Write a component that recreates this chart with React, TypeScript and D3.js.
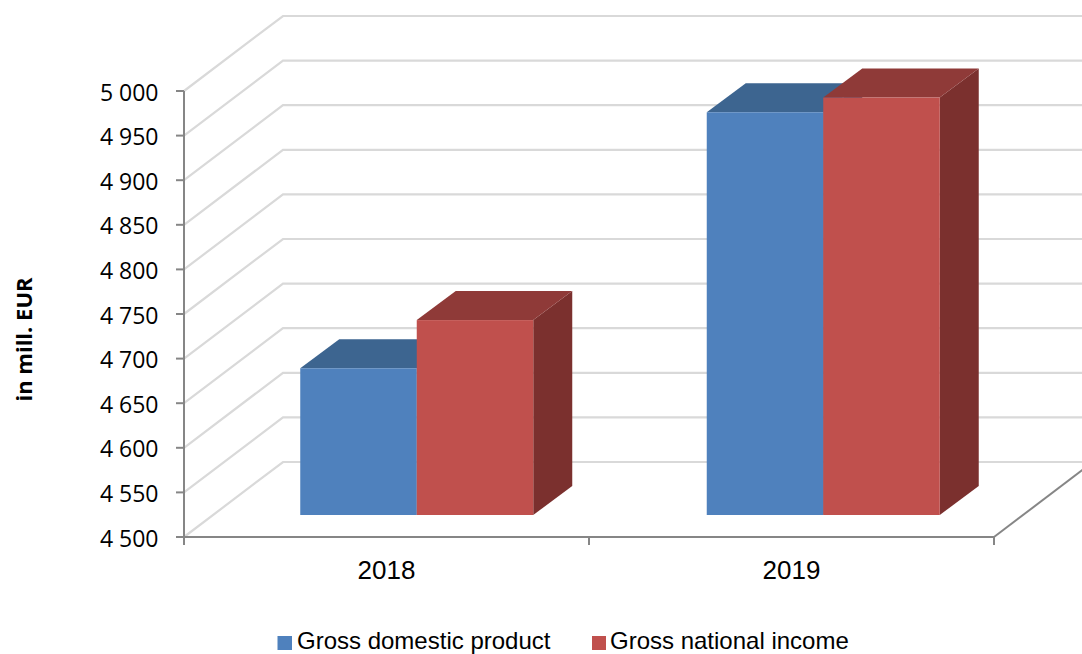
import React from "react";
import * as d3 from "d3";

const categories = ["2018", "2019"];
const seriesNames = ["Gross domestic product", "Gross national income"];
const gdpValues = [4664.5, 4951.5];
const gniValues = [4718.5, 4968];
const yTicks = [4500, 4550, 4600, 4650, 4700, 4750, 4800, 4850, 4900, 4950, 5000];
const tickLabels = ["4 500", "4 550", "4 600", "4 650", "4 700", "4 750", "4 800", "4 850", "4 900", "4 950", "5 000"];
const axisTitle = "in mill. EUR";

const W = 1082, H = 654;
const x0 = 184, x1 = 994, yTop = 91, yBot = 537;
const wallDx = 99, wallDy = -75;
const barDy = -22;
const depthDx = 39, depthDy = -29;
const GRID = "#d9d9d9", AXIS = "#868686";
const FONT = "'Liberation Sans', Arial, sans-serif";

const colors = [
  { front: "#4f81bd", top: "#3d6590", side: "#3a5f8a" },
  { front: "#c0504d", top: "#8f3a38", side: "#7b302e" },
];

export default function App() {
  const y = d3.scaleLinear().domain([4500, 5000]).range([yBot, yTop]);
  const xBand = d3.scaleBand<string>().domain(categories).range([x0, x1]);
  const xBars = d3.scalePoint<string>().domain(categories).range([416.75, 823.25]);
  const xInner = d3.scaleBand<string>().domain(seriesNames).range([-116.5, 116.5]);
  const series = [gdpValues, gniValues];
  const line = d3.line();
  const bars = categories.flatMap((c, ci) =>
    series.map((vals, si) => {
      const left = xBars(c)! + xInner(seriesNames[si])!;
      const w = xInner.bandwidth();
      const t = y(vals[ci]) + barDy;
      const b = y(4500) + barDy;
      const col = colors[si];
      const poly = (pts: [number, number][]) => line(pts)! + "Z";
      return (
        <g key={c + si}>
          <path d={poly([[left + w, t], [left + w + depthDx, t + depthDy], [left + w + depthDx, b + depthDy], [left + w, b]])} fill={col.side} />
          <path d={poly([[left, t], [left + depthDx, t + depthDy], [left + w + depthDx, t + depthDy], [left + w, t]])} fill={col.top} />
          <rect x={left} y={t} width={w} height={b - t} fill={col.front} />
        </g>
      );
    })
  );
  return (
    <svg width={W} height={H} style={{ position: "absolute", left: 0, top: 0, fontFamily: FONT }}>
      <rect width={W} height={H} fill="#fff" />
      {yTicks.map((v) => (
        <path key={v} fill="none" stroke={GRID} strokeWidth={2.2}
          d={line([[x0, y(v)], [x0 + wallDx, y(v) + wallDy], [W + 5, y(v) + wallDy]])!} />
      ))}
      <path d={line([[x1, yBot], [x1 + 93, yBot + (wallDy * 93) / wallDx]])!} stroke={AXIS} strokeWidth={2} fill="none" />
      <path d={line([[x0, yTop], [x0, yBot + 8]])!} stroke={AXIS} strokeWidth={2} fill="none" />
      <path d={line([[x0 - 8, yBot], [x1, yBot]])!} stroke={AXIS} strokeWidth={2} fill="none" />
      {yTicks.map((v, i) => (
        <g key={v}>
          <line x1={x0 - 8} x2={x0} y1={y(v)} y2={y(v)} stroke={AXIS} strokeWidth={2} />
          <text x={158.5} y={y(v) + 9.5} textAnchor="end" fontSize={23} fontFamily="'Open Sans', sans-serif" fill="#000">{tickLabels[i]}</text>
        </g>
      ))}
      {[...categories.map((c) => xBand(c)!), x1].map((xv) => (
        <line key={xv} x1={xv} x2={xv} y1={yBot} y2={yBot + 8} stroke={AXIS} strokeWidth={2} />
      ))}
      {categories.map((c) => (
        <text key={c} x={xBand(c)! + xBand.bandwidth() / 2} y={578.5} textAnchor="middle" fontSize={26} fill="#000">{c}</text>
      ))}
      {bars}
      <text transform="translate(31.5,339.5) rotate(-90)" textAnchor="middle" fontSize={22} fontWeight="bold" fontFamily="'Open Sans', sans-serif" fill="#000">{axisTitle}</text>
      <rect x={277.5} y={636} width={14.5} height={14} fill={colors[0].front} />
      <text x={297} y={649.3} fontSize={24} fill="#000">{seriesNames[0]}</text>
      <rect x={592} y={636} width={14} height={14} fill={colors[1].front} />
      <text x={610} y={649.3} fontSize={24} fill="#000">{seriesNames[1]}</text>
    </svg>
  );
}
